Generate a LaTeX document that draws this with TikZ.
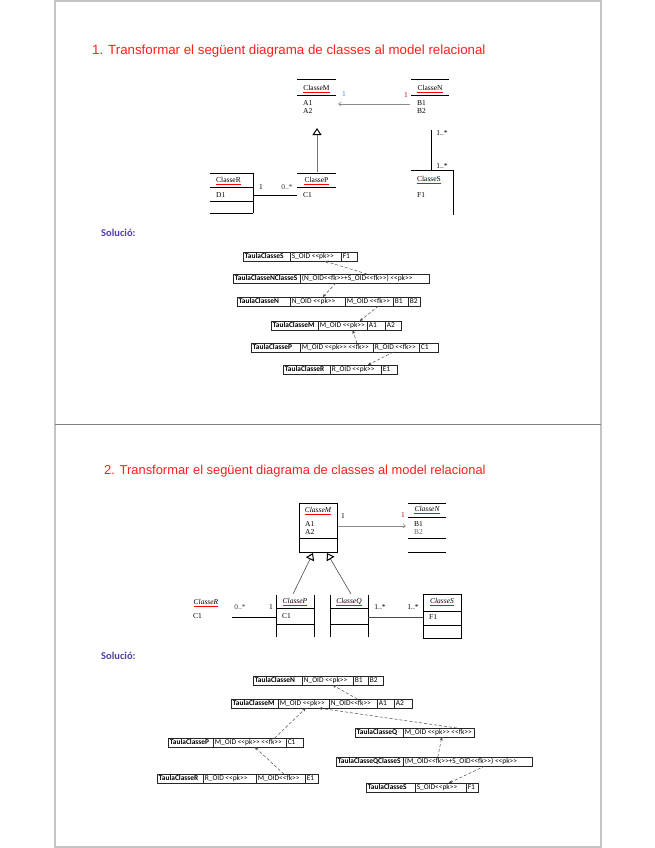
\documentclass[tikz,border=0pt]{standalone}
\usepackage{fontspec}
\setmainfont{Liberation Serif}
\newfontfamily\arialf{Liberation Sans}
\newfontfamily\calf{Carlito}
\usetikzlibrary{arrows.meta,calc}
\definecolor{titlered}{RGB}{255,30,30}
\definecolor{solcol}{RGB}{80,62,172}
\definecolor{framegray}{RGB}{195,195,195}
\definecolor{multblue}{RGB}{70,130,200}
\newcommand\ltlt{<\kern0pt<}
\newcommand\gtgt{>\kern0pt>}
\newcommand\tc[5]{\node[tcell] (#1) at (#2,#4) {\makebox[#3pt][l]{#5}};}
\tikzset{
  tcell/.style={draw=black!85, line width=0.6pt, anchor=north west, inner xsep=1.5pt, inner ysep=0pt,
    minimum height=8.5pt, text height=5.2pt, text depth=1.5pt, font=\calf\fontsize{7.4}{8}\selectfont},
  tarrow/.style={draw=black!70, line width=0.5pt, densely dashed, -{Stealth[length=3.5pt,width=3pt]}},
  umlline/.style={draw=black, line width=1pt},
  umltxt/.style={inner sep=0pt, font=\fontsize{7.5}{9}\selectfont},
  attr/.style={umltxt, anchor=west},
  mult/.style={inner sep=0pt, font=\fontsize{7.5}{9}\selectfont},
  spell/.style={draw=red, line width=0.4pt},
  assoc/.style={draw=black!45, line width=0.6pt, -{Straight Barb[length=2.5pt,width=4pt]}},
  genl/.style={draw=black!55, line width=0.6pt, -{Triangle[open,length=7pt,width=9pt,color=black,line width=1pt]}},
  titletxt/.style={anchor=west, inner sep=0pt, text=titlered},
  soltxt/.style={anchor=west, inner sep=0pt, text=solcol, font=\calf\bfseries\fontsize{10.5}{12}\selectfont}
}
\begin{document}
\begin{tikzpicture}[x=1pt,y=-1pt]
\useasboundingbox[fill=white] (0,0) rectangle (655,848);
% page frame
\draw[framegray, line width=1.2pt] (55,1) rectangle (601,847);
\draw[black!50, line width=1pt] (55,424) -- (601,424);

% ---------------- slide 1 ----------------
\node[titletxt, font=\arialf\fontsize{13.3}{15}\selectfont] (t1) at (92,51) {1. Transformar el següent diagrama de classes al model relacional};

% ClasseM
\draw[umlline] (297,80) -- (336,80);
\draw[umlline] (297,96) -- (336,96);
\node[umltxt] (cM1) at (316.5,88) {ClasseM};
\node[attr] (cM1a) at (303,103) {A1};
\node[attr] (cM1b) at (303,111) {A2};
% ClasseN
\draw[umlline] (411,80) -- (449,80);
\draw[umlline] (411,96) -- (449,96);
\node[umltxt] (cN1) at (430,88) {ClasseN};
\node[attr] (cN1a) at (417,103) {B1};
\node[attr] (cN1b) at (417,111) {B2};
\node[mult, text=multblue] (m1M) at (344,94) {1};
\node[mult, text=red!80!black] (m1N) at (406,95) {1};
\coordinate (cN1w) at (410,104);
\coordinate (cM1e) at (338,104);
\draw[assoc] (cN1w) -- (cM1e);
% ClasseP
\draw[umlline] (297,173) -- (336,173);
\draw[umlline] (297,187) -- (336,187);
\node[umltxt] (cP1) at (316.5,180) {ClasseP};
\node[attr] (cP1a) at (303,195) {C1};
\coordinate (cP1top) at (317,172);
\coordinate (cM1bot) at (317,128);
\draw[genl] (cP1top) -- (cM1bot);
% ClasseR
\draw[umlline] (210,173) -- (253,173);
\draw[umlline] (210,187) -- (253,187);
\draw[umlline] (210,201) -- (253,201);
\draw[umlline] (210,213) -- (253,213);
\draw[umlline] (253,173) -- (253,213);
\node[umltxt] (cR1) at (228.5,180) {ClasseR};
\node[attr] (cR1a) at (216,195) {D1};
\coordinate (cR1e) at (253,195);
\coordinate (cP1w) at (297,195);
\draw[line width=0.8pt] (cR1e) -- (cP1w);
\node[mult] (m1R) at (261,187) {1};
\node[mult, text=black!75] (m1P) at (287,187) {0..*};
% ClasseS
\draw[umlline] (411,170) -- (453,170);
\draw[umlline] (453,170) -- (453,215);
\node[umltxt] (cS1) at (429,179) {ClasseS};
\node[attr] (cS1a) at (417,195) {F1};
\coordinate (cN1s) at (431,130);
\coordinate (cS1n) at (431,170);
\draw[line width=1pt] (cN1s) -- (cS1n);
\node[mult] (m1Na) at (442,133) {1..*};
\node[mult] (m1Sa) at (442,166) {1..*};
% spell underlines
\foreach \n in {cM1,cN1,cP1,cR1,cS1} {\draw[spell] ($(\n.south west)+(0,1.2)$) -- ($(\n.south east)+(0,1.2)$);}

\node[soltxt] (sol1) at (101,233) {Solució:};

% tables slide 1
\tc{s1a}{243}{44}{252}{\textbf{TaulaClasseS}}
\tc{s1b}{290}{48}{252}{S\_OID \ltlt pk\gtgt}
\tc{s1c}{341}{13}{252}{F1}
\tc{ns1a}{233}{64}{274}{\textbf{TaulaClasseNClasseS}}
\tc{ns1b}{300}{126}{274}{(N\_OID\ltlt fk\gtgt+S\_OID\ltlt fk\gtgt) \ltlt pk\gtgt}
\tc{n1a}{237}{50}{297}{\textbf{TaulaClasseN}}
\tc{n1b}{290}{52}{297}{N\_OID \ltlt pk\gtgt}
\tc{n1c}{345}{45}{297}{M\_OID \ltlt fk\gtgt}
\tc{n1d}{393}{12}{297}{B1}
\tc{n1e}{408}{9}{297}{B2}
\tc{m1a}{271}{44}{321}{\textbf{TaulaClasseM}}
\tc{m1b}{318}{46}{321}{M\_OID \ltlt pk\gtgt}
\tc{m1c}{367}{15}{321}{A1}
\tc{m1d}{385}{13}{321}{A2}
\tc{p1a}{251}{46}{343}{\textbf{TaulaClasseP}}
\tc{p1b}{300}{70}{343}{M\_OID \ltlt pk\gtgt{} \ltlt fk\gtgt}
\tc{p1c}{373}{43}{343}{R\_OID \ltlt fk\gtgt}
\tc{p1d}{419}{16}{343}{C1}
\tc{r1a}{283}{44}{365}{\textbf{TaulaClasseR}}
\tc{r1b}{330}{48}{365}{R\_OID \ltlt pk\gtgt}
\tc{r1c}{381}{13}{365}{E1}

\draw[tarrow] ([xshift=2pt]ns1b.north) -- ([xshift=9pt]s1b.south);
\draw[tarrow] ([xshift=-29pt]ns1b.south) -- ([xshift=5pt]n1b.north);
\draw[tarrow] ([xshift=9pt]n1c.south) -- ([xshift=17pt]m1b.north);
\draw[tarrow] ([xshift=20pt]p1b.north) -- ([xshift=10pt]m1b.south);
\draw[tarrow] ([xshift=-3pt]p1c.south) -- ([xshift=12pt]r1b.north);

% ---------------- slide 2 ----------------
\node[titletxt, font=\arialf\fontsize{12.9}{15}\selectfont] (t2) at (104,471) {2. Transformar el següent diagrama de classes al model relacional};

% ClasseM
\draw[umlline] (299,503) rectangle (337,552);
\draw[umlline] (299,538) -- (337,538);
\node[umltxt, font=\itshape\fontsize{7.5}{9}\selectfont] (cM2) at (318,510) {ClasseM};
\node[attr] (cM2a) at (305,524) {A1};
\node[attr] (cM2b) at (305,532) {A2};
% ClasseN
\draw[umlline] (408,503) -- (446,503);
\draw[umlline] (408,517) -- (446,517);
\draw[umlline] (408,538) -- (446,538);
\draw[umlline] (408,552) -- (446,552);
\node[umltxt, font=\itshape\fontsize{7.5}{9}\selectfont] (cN2) at (427,509) {ClasseN};
\node[attr] (cN2a) at (414,524) {B1};
\node[attr, text=black!60] (cN2b) at (414,532) {B2};
\node[mult] (m2M) at (343,516) {1};
\node[mult, text=red!80!black] (m2N) at (403,515) {1};
\coordinate (cM2e) at (338,526);
\coordinate (cN2w) at (406,526);
\draw[assoc] (cM2e) -- (cN2w);
% ClasseP
\draw[umlline] (276,595) -- (276,637);
\draw[umlline] (314,595) -- (314,637);
\draw[umlline] (276,608) -- (314,608);
\draw[umlline] (276,624) -- (314,624);
\node[umltxt, font=\itshape\fontsize{7.5}{9}\selectfont] (cP2) at (295,601) {ClasseP};
\node[attr] (cP2a) at (282,616) {C1};
% ClasseQ
\draw[umlline] (330,595) -- (330,637);
\draw[umlline] (368,595) -- (368,637);
\draw[umlline] (330,608) -- (368,608);
\draw[umlline] (330,624) -- (368,624);
\node[umltxt, font=\itshape\fontsize{7.5}{9}\selectfont] (cQ2) at (349,601) {ClasseQ};
% generalizations
\coordinate (cP2top) at (293,594);
\coordinate (cQ2top) at (351,594);
\coordinate (cM2bl) at (313,553);
\coordinate (cM2br) at (327,553);
\draw[genl, draw=black!70] (cP2top) -- (cM2bl);
\draw[genl, draw=black!70] (cQ2top) -- (cM2br);
% ClasseS
\draw[umlline] (423,594) rectangle (461,638);
\draw[umlline] (423,611.5) -- (461,611.5);
\draw[umlline] (423,625) -- (461,625);
\node[umltxt, font=\itshape\fontsize{7.5}{9}\selectfont] (cS2) at (442,601) {ClasseS};
\node[attr] (cS2a) at (429,617) {F1};
% ClasseR
\node[umltxt, font=\itshape\fontsize{7.5}{9}\selectfont] (cR2) at (206,602) {ClasseR};
\node[attr] (cR2a) at (193,616) {C1};
\coordinate (cR2e) at (232,617);
\coordinate (cP2w) at (276,617);
\draw[line width=0.8pt] (cR2e) -- (cP2w);
\coordinate (cQ2e) at (368,617);
\coordinate (cS2w) at (423,617);
\draw[line width=0.8pt, black!70] (cQ2e) -- (cS2w);
\node[mult, text=black!75] (m2R) at (240,607) {0..*};
\node[mult] (m2P) at (271,607) {1};
\node[mult] (m2Q) at (380,607) {1..*};
\node[mult] (m2S) at (413,607) {1..*};
\foreach \n in {cM2,cN2,cP2,cQ2,cS2,cR2} {\draw[spell] ($(\n.south west)+(0,1.2)$) -- ($(\n.south east)+(0,1.2)$);}

\node[soltxt] (sol2) at (101,656) {Solució:};

% tables slide 2
\tc{n2a}{253}{46}{676}{\textbf{TaulaClasseN}}
\tc{n2b}{302}{48}{676}{N\_OID \ltlt pk\gtgt}
\tc{n2c}{353}{12}{676}{B1}
\tc{n2d}{368}{12}{676}{B2}
\tc{m2a}{231}{44}{699}{\textbf{TaulaClasseM}}
\tc{m2b}{278}{48}{699}{M\_OID \ltlt pk\gtgt}
\tc{m2c}{329}{45}{699}{N\_OID\ltlt fk\gtgt}
\tc{m2d}{377}{14}{699}{A1}
\tc{m2e}{394}{15}{699}{A2}
\tc{p2a}{168}{42}{738}{\textbf{TaulaClasseP}}
\tc{p2b}{213}{70}{738}{M\_OID \ltlt pk\gtgt{} \ltlt fk\gtgt}
\tc{p2c}{286}{14}{738}{C1}
\tc{r2a}{157}{43}{774}{\textbf{TaulaClasseR}}
\tc{r2b}{203}{50}{774}{R\_OID \ltlt pk\gtgt}
\tc{r2c}{256}{46}{774}{M\_OID\ltlt fk\gtgt}
\tc{r2d}{305}{10}{774}{E1}
\tc{q2a}{355}{45}{728}{\textbf{TaulaClasseQ}}
\tc{q2b}{403}{68}{728}{M\_OID \ltlt pk\gtgt{} \ltlt fk\gtgt}
\tc{qs2a}{336}{64}{757}{\textbf{TaulaClasseQClasseS}}
\tc{qs2b}{403}{126}{757}{(M\_OID\ltlt fk\gtgt+S\_OID\ltlt fk\gtgt) \ltlt pk\gtgt}
\tc{s2a}{366}{46}{783}{\textbf{TaulaClasseS}}
\tc{s2b}{415}{48}{783}{S\_OID\ltlt pk\gtgt}
\tc{s2c}{466}{9}{783}{F1}

\draw[tarrow] ([xshift=4pt]m2c.north) -- ([xshift=5pt]n2b.south);
\draw[tarrow] ([xshift=18pt]q2b.north) -- ([xshift=15pt]m2b.south);
\draw[tarrow] ([xshift=25pt]p2b.north) -- ([xshift=2pt]m2b.south);
\draw[tarrow] ([xshift=3pt]r2c.north) -- ([xshift=5pt]p2b.south);
\draw[tarrow] ([xshift=-30pt]qs2b.north) -- ([xshift=3pt]q2b.south);
\draw[tarrow] ([xshift=17pt]qs2b.south) -- ([xshift=8pt]s2b.north);
\end{tikzpicture}
\end{document}
